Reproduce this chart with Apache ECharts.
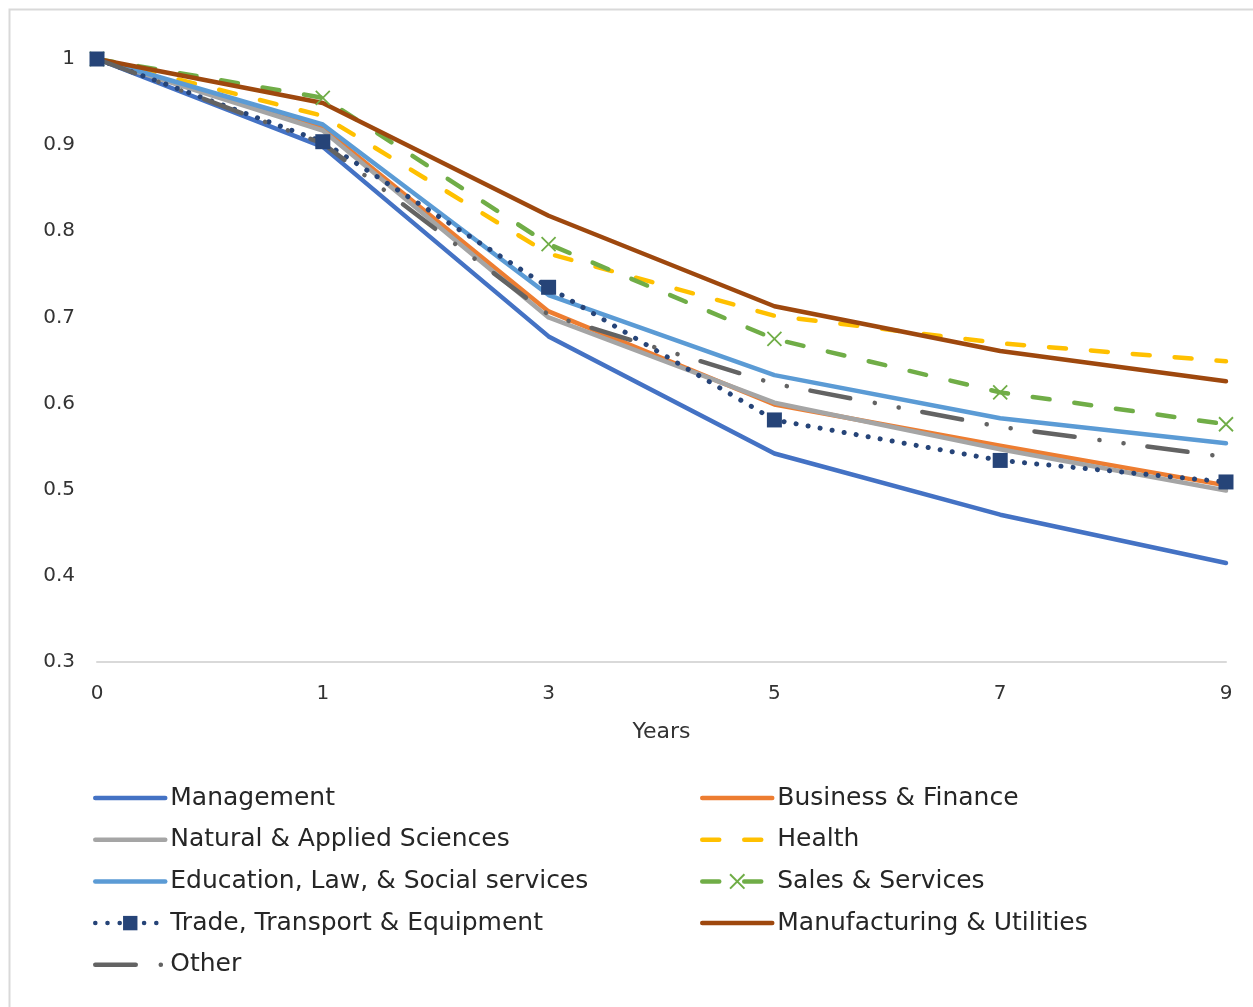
<!DOCTYPE html>
<html>
<head>
<meta charset="utf-8">
<script src="https://cdn.jsdelivr.net/npm/echarts@6/dist/echarts.min.js"></script>
<style>
  html, body { margin: 0; padding: 0; background: #fff; }
  #chart { width: 1253px; height: 1007px; }
</style>
</head>
<body>
<div id="chart"></div>
<script>
// Share of cohort remaining, by occupation group, over years since entry
const years = ['0', '1', '3', '5', '7', '9'];

const management      = [1, 0.898, 0.678, 0.542, 0.471, 0.415];
const businessFinance = [1, 0.920, 0.707, 0.599, 0.551, 0.505];
const naturalApplied  = [1, 0.917, 0.700, 0.601, 0.547, 0.499];
const health          = [1, 0.934, 0.774, 0.702, 0.670, 0.649];
const educationLaw    = [1, 0.924, 0.726, 0.633, 0.583, 0.554];
const salesServices   = [1, 0.955, 0.785, 0.675, 0.613, 0.576];
const tradeTransport  = [1, 0.904, 0.735, 0.581, 0.534, 0.509];
const manufacturing   = [1, 0.949, 0.818, 0.713, 0.661, 0.626];
const other           = [1, 0.902, 0.703, 0.623, 0.573, 0.538];

const yTicks = { min: 0.3, max: 1, step: 0.1 };

const FONT = '"DejaVu Sans", "Noto Sans", sans-serif';
const LW = 4.5;

function solid(name, data, color) {
  return {
    name, type: 'line', data, symbol: 'none',
    lineStyle: { color, width: LW, cap: 'round', join: 'round' },
    itemStyle: { color }
  };
}

const series = [
  solid('Management', management, '#4472C4'),
  solid('Business & Finance', businessFinance, '#ED7D31'),
  solid('Natural & Applied Sciences', naturalApplied, '#A5A5A5'),
  {
    name: 'Health', type: 'line', data: health, symbol: 'none',
    lineStyle: { color: '#FFC000', width: LW, type: [17, 25], cap: 'round' },
    itemStyle: { color: '#FFC000' }
  },
  solid('Education, Law, & Social services', educationLaw, '#5B9BD5'),
  {
    name: 'Sales & Services', type: 'line', data: salesServices,
    symbol: 'path://M0,0L10,10M10,0L0,10', symbolSize: 14,
    lineStyle: { color: '#70AD47', width: LW, type: [17, 25], cap: 'round' },
    itemStyle: { color: 'rgba(0,0,0,0)', borderColor: '#70AD47', borderWidth: 1.8 }
  },
  {
    name: 'Trade, Transport & Equipment', type: 'line', data: tradeTransport,
    symbol: 'rect', symbolSize: 15,
    lineStyle: { color: '#264478', width: 5, type: [0.1, 12.1], cap: 'round' },
    itemStyle: { color: '#264478' }
  },
  solid('Manufacturing & Utilities', manufacturing, '#9E480E'),
  {
    name: 'Other', type: 'line', data: other, symbol: 'none',
    lineStyle: { color: '#636363', width: LW, type: [40.5, 25, 0.1, 24.2, 0.1, 24], cap: 'round' },
    itemStyle: { color: '#636363' }
  }
];

// legend entries for plain lines carry no marker in the key
const markerless = new Set(['Management', 'Business & Finance', 'Natural & Applied Sciences',
  'Health', 'Education, Law, & Social services', 'Manufacturing & Utilities', 'Other']);
function legendItem(name) {
  return markerless.has(name)
    ? { name, itemStyle: { color: 'rgba(0,0,0,0)', borderWidth: 0, opacity: 0 } }
    : { name };
}

const legendCommon = {
  orient: 'vertical',
  itemWidth: 70,
  itemHeight: 18,
  itemGap: 11.7,
  lineStyle: { width: LW },
  textStyle: { fontFamily: FONT, fontSize: 25, color: '#262626', lineHeight: 30 }
};

const chart = echarts.init(document.getElementById('chart'), null, { renderer: 'canvas' });
chart.setOption({
  animation: false,
  backgroundColor: '#fff',
  graphic: [{
    type: 'rect', left: 7, top: 7, silent: true,
    shape: { x: 0, y: 0, width: 1260, height: 1010 },
    style: { fill: 'none', stroke: '#D9D9D9', lineWidth: 2 }
  }],
  grid: { left: 97, right: 27, top: 59, bottom: 345, containLabel: false },
  xAxis: {
    type: 'category', data: years, boundaryGap: false,
    axisLine: { lineStyle: { color: '#D9D9D9', width: 2 } },
    axisTick: { show: false },
    axisLabel: { fontFamily: FONT, fontSize: 20, color: '#333333', margin: 22 },
    name: 'Years', nameLocation: 'middle', nameGap: 59,
    nameTextStyle: { fontFamily: FONT, fontSize: 22, color: '#333333' }
  },
  yAxis: {
    type: 'value', min: yTicks.min, max: yTicks.max, interval: yTicks.step,
    axisLine: { show: false }, axisTick: { show: false },
    splitLine: { show: false },
    axisLabel: { fontFamily: FONT, fontSize: 20, color: '#333333', margin: 22 }
  },
  legend: [
    Object.assign({}, legendCommon, {
      left: 88, top: 778,
      data: ['Management', 'Natural & Applied Sciences', 'Education, Law, & Social services',
             'Trade, Transport & Equipment', 'Other'].map(legendItem)
    }),
    Object.assign({}, legendCommon, {
      left: 695, top: 778,
      data: ['Business & Finance', 'Health', 'Sales & Services',
             'Manufacturing & Utilities'].map(legendItem)
    })
  ],
  series
});
</script>
</body>
</html>
